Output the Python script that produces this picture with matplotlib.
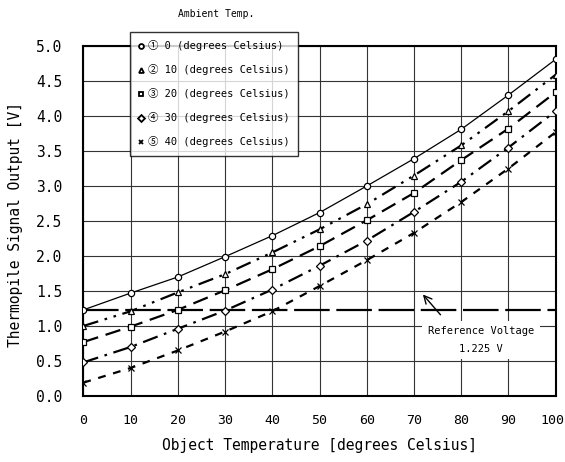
import numpy as np
import matplotlib
matplotlib.use("Agg")
import matplotlib.pyplot as plt
import matplotlib.transforms as mtransforms
from matplotlib.lines import Line2D

plt.rcParams['font.family'] = ['DejaVu Sans Mono', 'Noto Sans CJK JP']

# Object temperature [degrees Celsius]
object_temp = [0, 10, 20, 30, 40, 50, 60, 70, 80, 90, 100]

# Thermopile output [V] for each ambient temperature
out_amb0 = [1.23, 1.47, 1.70, 1.99, 2.29, 2.62, 3.00, 3.39, 3.81, 4.30, 4.81]
out_amb10 = [1.00, 1.21, 1.48, 1.74, 2.05, 2.38, 2.74, 3.15, 3.58, 4.07, 4.59]
out_amb20 = [0.77, 0.99, 1.23, 1.51, 1.81, 2.14, 2.51, 2.90, 3.37, 3.82, 4.34]
out_amb30 = [0.48, 0.70, 0.96, 1.22, 1.52, 1.86, 2.22, 2.63, 3.06, 3.55, 4.07]
out_amb40 = [0.19, 0.40, 0.65, 0.92, 1.21, 1.57, 1.94, 2.33, 2.77, 3.25, 3.77]

legend_labels = ['\u2460 0 (degrees Celsius)', '\u2461 10 (degrees Celsius)',
                 '\u2462 20 (degrees Celsius)', '\u2463 30 (degrees Celsius)',
                 '\u2464 40 (degrees Celsius)']
ref_voltage = 1.225

series = [out_amb0, out_amb10, out_amb20, out_amb30, out_amb40]
markers = ['o', '^', 's', 'D', 'x']
msizes = [4.5, 5, 4.5, 4, 5]
styles = ['-', (0, (7, 3, 1.2, 3, 1.2, 3)), (0, (7, 3.5)), (0, (7, 3, 1.2, 3)), (0, (3.5, 3.5))]
widths = [0.9, 1.6, 1.6, 1.6, 1.6]

fig = plt.figure(figsize=(5.65, 4.62), dpi=100)
ax = fig.add_axes([0.1475, 0.1429, 0.836, 0.7575])

# reference voltage line
ax.axhline(ref_voltage, color='black', lw=1.6, dashes=(16, 3), zorder=2)

for vals, m, ms, ls, lw in zip(series, markers, msizes, styles, widths):
    ax.plot(object_temp, vals, color='black', linestyle=ls, lw=lw, zorder=3)
    ax.plot(object_temp, vals, linestyle='none', marker=m, ms=ms,
            mfc='white', mec='black', mew=0.9, zorder=4)

ax.set_xlim(0, 100)
ax.set_ylim(0, 5)
ax.set_xticks(object_temp)
ax.set_yticks(np.arange(0, 5.01, 0.5))
ax.set_yticklabels(['%.1f' % v for v in np.arange(0, 5.01, 0.5)])
ax.tick_params(length=0)
ax.tick_params(axis='y', labelsize=10.5, pad=15)
ax.tick_params(axis='x', labelsize=9.5, pad=13)
ax.grid(True, color='#333333', lw=0.8)
for sp in ax.spines.values():
    sp.set_linewidth(1.5)

# keep "100" inside the figure
last = ax.get_xticklabels()[-1]
last.set_transform(last.get_transform() + mtransforms.ScaledTranslation(-3 / 100, 0, fig.dpi_scale_trans))

ax.set_xlabel('Object Temperature [degrees Celsius]', fontsize=10.5, labelpad=8)
ax.set_ylabel('Thermopile Signal Output [V]', fontsize=10.5)
ax.yaxis.set_label_coords(-0.128, 0.49)

# reference voltage annotation
ax.annotate('', xy=(71.5, 1.48), xytext=(76, 1.13),
            arrowprops=dict(arrowstyle='->', color='black', lw=1.0,
                            mutation_scale=14), zorder=6)
ax.text(84.2, 0.8, 'Reference Voltage\n1.225 V', fontsize=7.5, ha='center',
        va='center', linespacing=1.9, zorder=5,
        bbox=dict(facecolor='white', edgecolor='none', pad=4))

# legend (markers only)
handles = [Line2D([], [], linestyle='none', marker=m, ms=3.5, mfc='white',
                  mec='black', mew=1.3) for m in markers]
leg = fig.legend(handles, legend_labels, loc='upper left',
                 bbox_to_anchor=(129.5 / 565, 1 - 32 / 462), fontsize=7.5,
                 frameon=True, fancybox=False, edgecolor='black',
                 handlelength=0.6, handletextpad=0.4, labelspacing=1.25,
                 borderpad=0.8, borderaxespad=0)
leg.get_frame().set_linewidth(1.0)
leg.set_zorder(10)

fig.text(216 / 565, 1 - 14 / 462, 'Ambient Temp.', fontsize=7, ha='center', va='center')

fig.savefig('out.png', dpi=100)
